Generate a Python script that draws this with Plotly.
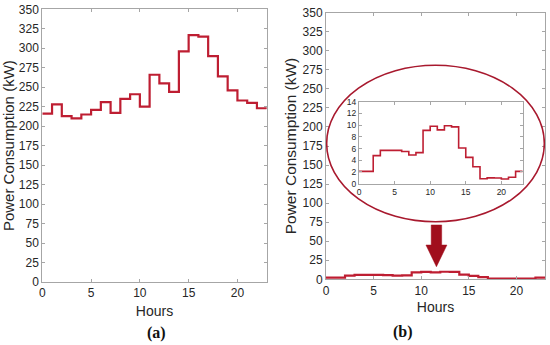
import plotly.graph_objects as go

hours = list(range(24))
power_a = [216, 228, 213, 210, 215, 221, 231, 217, 235, 241, 225, 266,
           255, 244, 296, 317, 315, 290, 264, 246, 233, 230, 223, 222]
power_b = [2.1, 2.1, 4.8, 5.7, 5.7, 5.7, 5.5, 4.9, 5.3, 9.1, 9.8, 9.2,
           9.9, 9.7, 6.1, 4.5, 2.9, 0.85, 1.0, 0.97, 0.8, 1.1, 2.1, 2.1]
main_yticks = list(range(0, 351, 25))
main_xticks = [0, 5, 10, 15, 20]
inset_yticks = list(range(0, 15, 2))

LINE = "#BE1E32"
ELL = "#A8192E"
ARROW = "#A10E1C"
FRAME = "#A6A6A6"
TXT = "#262626"
FONT = "Liberation Sans, Arial, sans-serif"

fig = go.Figure()
fig.add_trace(go.Scatter(x=hours, y=power_a, mode="lines", line=dict(color=LINE, width=2.2, shape="hv"),
                         xaxis="x", yaxis="y", showlegend=False, hoverinfo="skip"))
fig.add_trace(go.Scatter(x=hours, y=power_b, mode="lines", line=dict(color=LINE, width=2.2, shape="hv"),
                         xaxis="x2", yaxis="y2", showlegend=False, hoverinfo="skip"))
fig.add_trace(go.Scatter(x=hours, y=power_b, mode="lines", line=dict(color=LINE, width=1.6, shape="hv"),
                         xaxis="x3", yaxis="y3", showlegend=False, hoverinfo="skip"))

def xax(domain, anchor, size=12, title=None, standoff=6):
    d = dict(domain=domain, anchor=anchor, range=[0, 23], tickvals=main_xticks, automargin=False,
             showgrid=False, zeroline=False, showline=True, linecolor=FRAME, linewidth=1,
             mirror="ticks", ticks="inside", ticklen=3, tickcolor=FRAME,
             tickfont=dict(size=size, color=TXT, family=FONT))
    if title:
        d["title"] = dict(text=title, font=dict(size=14, color=TXT, family=FONT), standoff=standoff)
    return d

def yax(domain, anchor, rng, ticks, size=12, title=None, tsize=15, standoff=4):
    d = dict(domain=domain, anchor=anchor, range=rng, tickvals=ticks, automargin=False,
             showgrid=False, zeroline=False, showline=True, linecolor=FRAME, linewidth=1,
             mirror="ticks", ticks="inside", ticklen=3, tickcolor=FRAME,
             tickfont=dict(size=size, color=TXT, family=FONT))
    if title:
        d["title"] = dict(text=title, font=dict(size=tsize, color=TXT, family=FONT), standoff=standoff)
    return d

fig.update_layout(
    width=550, height=345, margin=dict(l=0, r=0, t=0, b=0, autoexpand=False),
    paper_bgcolor="white", plot_bgcolor="white",
    xaxis=xax([0.0769, 0.4849], "y", title="Hours"),
    yaxis=yax([0.1826, 0.973], "x", [0, 350], main_yticks, title="Power Consumption (kW)", tsize=15),
    xaxis2=xax([0.5927, 0.9909], "y2", title="Hours", standoff=5),
    yaxis2=yax([0.1904, 0.9632], "x2", [0, 350], main_yticks, title="Power Consumption (kW)", tsize=15.5, standoff=2),
    xaxis3=xax([0.6527, 0.9504], "y3", size=8.5),
    yaxis3=yax([0.4675, 0.7052], "x3", [0, 14], inset_yticks, size=8.5),
)

# ellipse around inset
fig.add_shape(type="circle", xref="x2", yref="y2", x0=0.07, x1=22.93, y0=75.6, y1=281,
              line=dict(color=ELL, width=1.6), layer="above")
# downward arrow
fig.add_shape(type="path", xref="x2", yref="y2",
              path="M 11.05 71.3 L 12.15 71.3 L 12.15 45 L 12.7 45 L 11.6 16.5 L 10.5 45 L 11.05 45 Z",
              fillcolor=ARROW, line=dict(color=ARROW, width=0.5))

SERIF = "Liberation Serif, DejaVu Serif, serif"
fig.add_annotation(x=156 / 550, y=1 - 333 / 345, xref="paper", yref="paper", text="<b>(a)</b>",
                   xanchor="center", yanchor="middle",
                   showarrow=False, font=dict(size=16, color="#111", family=SERIF))
fig.add_annotation(x=403 / 550, y=1 - 332 / 345, xref="paper", yref="paper", text="<b>(b)</b>",
                   xanchor="center", yanchor="middle",
                   showarrow=False, font=dict(size=16, color="#111", family=SERIF))

fig.write_html("out.html", config={"displayModeBar": False},
               post_script="document.body.style.margin='0';document.body.style.overflow='hidden';")
